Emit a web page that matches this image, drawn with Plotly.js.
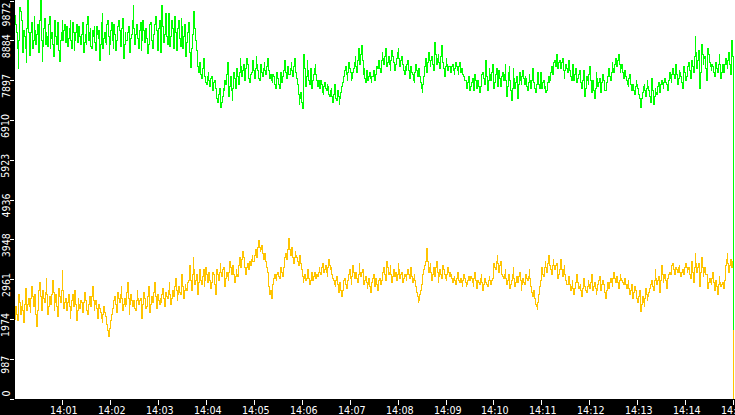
<!DOCTYPE html>
<html>
<head>
<meta charset="utf-8">
<script src="https://cdn.plot.ly/plotly-3.0.1.min.js"></script>
<style>
  html, body { margin: 0; padding: 0; background: #000; }
  #chart { width: 735px; height: 415px; }
  /* the source chart draws its traces without anti-aliasing */
  #chart .scatterlayer path { shape-rendering: crispEdges; }
</style>
</head>
<body>
<div id="chart"></div>
<script>
// Roughly one sample per second from 14:00:00 to 14:15:00.
const START = "2024-01-01 14:00:00";
const SPAN_SECONDS = 900;

const greenValues = [
  9520, 9300, 9080, 8700, 8210, 8900, 9720, 9600, 9400, 8800, 8600, 9150, 9000, 8700, 8350, 9200, 9890, 9100, 8530, 8950,
  9100, 9350, 8700, 8900, 9500, 9150, 8800, 9050, 9300, 8950, 8600, 9400, 9890, 8900, 8360, 8750, 9200, 9450, 8800, 9100,
  9000, 8750, 9300, 9500, 8700, 8950, 9100, 8800, 8500, 9250, 9400, 9000, 8800, 9350, 9200, 8650, 8360, 8900, 9100, 9400,
  8900, 9150, 9300, 8850, 9050, 9250, 8750, 8950, 9200, 9400, 8900, 8700, 9330, 9100, 8650, 8900, 9100, 9300, 8850, 9050,
  9250, 9000, 8800, 9050, 9150, 9350, 8600, 8850, 9050, 8800, 9300, 9500, 8900, 9100, 9200, 8750, 8700, 9150, 9000, 9250,
  8850, 8650, 9250, 9050, 8950, 9150, 8400, 8800, 9350, 9550, 8700, 8950, 9100, 8850, 8800, 9300, 9400, 9000, 8550, 8800,
  9150, 9350, 8900, 8700, 9300, 9050, 8650, 8900, 9050, 9250, 9400, 9150, 8750, 8950, 9200, 9450, 8450, 8800, 9100, 8900,
  8900, 9100, 9250, 8850, 8600, 8950, 9050, 9400, 9770, 9200, 8800, 9050, 9300, 9150, 8950, 8700, 9150, 9350, 8650, 8900,
  9400, 9150, 8850, 9050, 9200, 8950, 8580, 8800, 9100, 9300, 9350, 8900, 8700, 9000, 9050, 9300, 9500, 9150, 8900, 8650,
  9200, 9400, 8600, 8950, 9750, 9250, 8850, 9050, 9300, 9550, 9000, 8800, 9570, 9150, 8750, 9000, 9400, 9200, 8900, 8700,
  9500, 9100, 8650, 8900, 9200, 9400, 8950, 8750, 9450, 9250, 8700, 9000, 9300, 9050, 8500, 8850, 9100, 9350, 8800, 8600,
  8230, 8700, 9050, 9300, 9600, 9200, 8900, 8650, 8400, 8250, 8100, 8350,
  8300, 8050, 7950, 8200, 8450, 8150, 8000, 7850, 7800, 8000, 8100, 7900, 7750, 7950, 8000, 7800, 7650, 7850, 7900, 7700,
  7600, 7450, 7350, 7550, 7700, 7400, 7220, 7350, 7500, 7700, 7650, 7900,
  7800, 8050, 8350, 7900, 7500, 7750, 8000, 7650, 7400, 7700, 8100, 7950, 7700, 7950,
  8200, 8000, 7800, 8100, 8450, 8250, 8000, 8150, 8300, 8050, 7900, 8200, 8450, 8300, 8100, 7950, 7850, 8050,
  8100, 8250, 8400, 8150, 7950, 8200, 8500, 8300, 8150, 7950, 7900, 8150, 8300, 8100, 8000, 8200, 8350, 8150, 8050, 8250, 8450, 8300, 8150, 7950,
  8050, 7900, 7850, 8050, 8000, 7800, 7700, 7900, 8100, 7950, 7800, 7700, 7950, 8100, 7850, 8000,
  8150, 8300, 8400, 8100, 7950, 8150, 8250, 8050, 8050, 8200, 8350, 8150, 8000, 8250, 8450, 8200, 8100, 7950,
  7800, 7550, 7300, 7450, 7600, 7350, 7200, 7900,
  8550, 8200, 7750, 8000, 8400, 8150, 7900, 7800, 8200, 8000, 7700, 7900, 8050, 8200, 8300, 8050, 7900, 7750,
  7900, 7750, 7700, 7900, 7800, 7600, 7550, 7750, 7850, 7700, 7650, 7800, 7750, 7550, 7500, 7650,
  7700, 7500, 7350, 7550, 7800, 7600, 7450, 7400, 7650, 7500, 7300, 7450, 7600, 7750, 7850, 7950,
  8000, 8150, 8250, 8050, 7900, 8100, 8350, 8200, 8100, 7900, 7950, 8100,
  8200, 8350, 8500, 8250, 8100, 8400, 8700, 8450, 8300, 8550, 8780, 8400,
  8050, 8200, 7950, 7850, 8150, 8050, 7900, 8000, 8100, 7950, 7850, 8000, 8000, 8150, 7900, 8050, 8050, 8250,
  8200, 8350, 8400, 8200, 8100, 8400, 8600, 8450, 8300, 8500, 8700, 8400, 8250, 8350, 8500, 8300, 8150, 8400,
  8650, 8500, 8350, 8200, 8150, 8300, 8450, 8600, 8700, 8450, 8250, 8400, 8500, 8350, 8300, 8150, 8050, 8250,
  8150, 8300, 8400, 8150, 7950, 8100, 8250, 8100, 8050, 7900, 7850, 8100, 8300, 8150, 8000, 8150,
  8200, 8000, 7850, 7700, 7600, 7800, 8000, 8250, 8450, 8300, 8100, 8350, 8600, 8400, 8250, 8400, 8500, 8300, 8150,
  8500, 8850, 8550, 8300, 8450, 8550, 8350, 8200, 8500, 8780, 8550, 8350, 8200, 8000, 8250, 8450, 8300, 8150, 8250,
  8250, 8150, 8100, 8250, 8300, 8150, 8050, 8200, 8350, 8250, 8150, 8050, 8250, 8350, 8100, 8200, 8200, 8050, 8000, 7900,
  7900, 7800, 7700, 7850, 8000, 7800, 7650, 7750, 7850, 7950, 7750, 7650, 8050, 7900, 7700, 7800, 7900, 7750, 7600, 7750, 7950, 8050,
  8100, 7950, 7800, 8050, 8400, 8000, 7650, 7900, 8200, 8050, 7900, 8100, 8300, 7950,
  7700, 7850, 8050, 8200, 7850, 7750, 8150, 7950, 7750, 7900, 8000, 8100, 7900, 8050,
  8300, 7900, 7500, 7750, 8100, 8250, 7900, 7650, 7400, 7700, 8200, 7950, 7700, 7850, 8000, 7700, 7450, 7800, 8100, 7900, 7800, 8000,
  8150, 7950, 7800, 8000, 7950, 7750, 7650, 7850, 8050, 7900, 7700, 7900, 8200, 8000,
  7850, 7700, 7600, 7800, 7950, 8100, 7800, 7700, 8100, 7900, 7700, 7850, 7900, 7700,
  7750, 7600, 7650, 7850, 8000, 7850, 7900, 8100, 8250, 8050, 8150, 8350, 8400, 8250, 8550, 8400, 8200, 8350, 8400, 8250,
  8200, 8350, 8450, 8150, 7950, 8150, 8300, 8200, 8100, 8250, 8400, 8150, 8000, 7900, 8150, 8300, 7900, 8050, 8200, 8050, 7850, 7950, 8050, 8150,
  7950, 7850, 7700, 7900, 8150, 7800, 7500, 7700, 8000, 7900, 7800, 8050, 8250, 7900, 7600, 7750, 7900,
  7650, 7450, 7700, 8100, 7950, 7750, 7850, 7950, 7700, 7600, 7850, 8050, 7900, 7800, 7650, 7650, 7850,
  8000, 8150, 8200, 8000, 7900, 8100, 8350, 8200, 8100, 8300, 8450, 8300, 8250, 8400, 8550, 8300, 8100, 8200, 8300, 8100, 7950, 8050, 8150, 8000,
  7900, 7800, 7750, 7950, 8050, 7800, 7650, 7750, 7800, 7650, 7550, 7750, 7900, 7800, 7700, 7550, 7450, 7300,
  7220, 7450, 7600, 7750, 7800, 7650, 7500, 7700, 7900, 7750, 7650, 7500, 7350, 7600, 7950, 7650, 7300, 7500,
  7700, 7600, 7550, 7750, 7850, 7700, 7600, 7800, 7900, 7800, 7700, 7850, 7950, 7850, 7800, 7700, 7650, 7900,
  8100, 7950, 7850, 8050, 8200, 8050, 7950, 8100, 8300, 8050, 7800, 7950, 8150, 8100,
  8000, 7850, 7700, 7950, 8250, 8100, 7900, 8000, 8100, 8250, 8350, 8150, 7950, 8200,
  8400, 8250, 8100, 8500, 9000, 8600, 8200, 8400, 8650, 8200, 7700, 8100, 8800,
  8550, 8300, 8450, 8500, 8200, 7900, 8300, 8700, 8550, 8350, 8250, 8150, 8300,
  8250, 8100, 8000, 8200, 8350, 8200, 8100, 8300, 8550, 8300, 7950, 8100, 8300,
  8200, 8100, 8300, 8450, 8300, 8200, 8400, 8600, 8300, 8050, 8400, 8900, 8500,
  1710
];

const yellowValues = [
  1960, 2150, 2300, 2100, 1950, 2250, 2600, 2400, 2100, 2300, 2450, 2200, 1900, 2350, 2750, 2500, 2200, 2350, 2500, 2300,
  2150, 2500, 2800, 2550, 2300, 2450, 2600, 2100, 1800, 2200, 2500, 2700, 2900, 2550, 2200, 2400, 2700, 2500, 2400, 2650,
  3000, 2600, 2100, 2300, 2550, 2400, 2350, 2600, 2950, 2650, 2200, 2400, 2600, 2300, 2050, 2350, 2750, 2550, 2400, 2700,
  3180, 2700, 2250, 2400, 2500, 2250,
  2200, 2400, 2600, 2300, 2000, 2200, 2450, 2600, 2300, 2500, 2700, 2350, 1950, 2200, 2500, 2350, 2250, 2450, 2400, 2200,
  2150, 2400, 2650, 2450, 2350, 2200, 2100, 2350, 2550, 2400, 2300, 2550, 2800, 2450, 2200, 2350, 2450, 2250, 2000, 2200,
  2350, 2250, 2150, 2000, 1900, 2100, 2300, 2150, 2050, 1900,
  1850, 1700, 1540, 1650, 1750, 1950, 2100, 2250,
  2300, 2450, 2550, 2350, 2150, 2400, 2650, 2500, 2400, 2600, 2800, 2500, 2200, 2350, 2500, 2300, 2350, 2650, 2900, 2500,
  2100, 2350, 2600, 2450, 2300, 2400, 2450, 2250, 2200, 2450, 2700, 2500, 2350, 2450, 2500, 2250, 2000, 2350, 2650, 2500,
  2400, 2250, 2300, 2550, 2800, 2450, 2150, 2350, 2550, 2400, 2450, 2650, 2900, 2550, 2250, 2450, 2600, 2450, 2350, 2500,
  2400, 2600, 2750, 2500, 2300, 2450, 2650, 2550, 2500, 2700, 2900, 2600, 2350, 2500, 2700, 2600, 2550,
  2800, 3000, 2700, 2450, 2600, 2800, 2650, 2600, 2850, 3100, 2800, 2500, 2700, 2850, 2750, 2700, 2900,
  2950, 3150, 3300, 2950, 2700, 3100, 3500, 3200, 2850, 2950, 3100, 2850, 2600, 2900, 3200, 3050,
  2950, 2850, 3050, 3200, 2800, 2950, 3250, 3100, 2900, 3000, 3150, 2950, 2750, 2900, 3000, 3150,
  3100, 2850, 2600, 2900, 3200, 3100, 2950, 3150, 3350, 3150, 3050, 3200, 3250, 3000, 2800, 3000, 3150, 3050, 2950, 3150, 3400, 3250, 3100,
  3200, 3300, 3100, 2900, 3050, 3200, 3100, 3050, 3300, 3500, 3350, 3250, 3450, 3650, 3500, 3400, 3250, 3100, 3250, 3350, 3250, 3200, 3400,
  3300, 3450, 3550, 3400, 3400, 3550, 3700, 3600, 3500, 3750, 3940, 3750, 3650, 3700, 3800, 3600, 3450, 3550, 3600, 3400, 3250, 3150,
  3000, 2800, 2600, 2700, 2500, 2650, 2850, 3000,
  3100, 3000, 2950, 3100, 3150, 3050, 3000, 3150, 3250, 3150, 3050, 3250,
  3400, 3500, 3600, 3450, 3450, 3700, 3990, 3700, 3550, 3650, 3750, 3500, 3350, 3500, 3650, 3550, 3500, 3400, 3300, 3450, 3550, 3350, 3200, 3050,
  2900, 3000, 3100, 2950, 3000, 3100, 3200, 3000, 2850, 2950, 3050, 3150, 2950, 3050, 3150, 3050, 3000, 3100,
  3050, 3150, 3250, 3150, 3100, 3250, 3350, 3200, 3150, 3200, 3300, 3150, 3050, 3250, 3450, 3300, 3200, 3250, 3100, 3000,
  2950, 2850, 2800, 2950, 3050, 2850, 2650, 2750, 2900, 2700, 2550, 2700, 2850, 2950, 3000, 2850, 2750, 2850,
  2950, 3100, 3200, 3000, 2850, 3050, 3300, 3150, 3000, 3100, 3150, 3000, 2900, 3100, 3350, 3150, 3050, 3150, 3200, 3000,
  2850, 2950, 3050, 2900, 2750, 2850, 3000, 2800, 2650, 2750, 2900, 3000, 3100, 2950, 2800, 2900, 3000, 2850, 2700, 2850, 2950, 3000, 2850, 2950,
  3050, 3150, 3250, 3100, 2950, 3150, 3400, 3250, 3100, 3150, 3300, 3100, 2900, 3050,
  3200, 3100, 3050, 3150, 2950, 3100, 3350, 3200, 3000, 3100, 3150, 3000, 2900, 3000,
  3100, 3050, 2950, 3100, 3200, 3100, 3000, 3150, 3250, 3050, 2900, 3000, 3100, 2950, 2800, 2650, 2550, 2400, 2450, 2600, 2700, 2850, 2950, 3100,
  3200, 3300, 3400, 3550, 3740, 3400, 3150, 3250, 3350, 3150, 2950, 3100, 3250, 3150, 3050, 3250, 3400,
  3150, 2900, 3050, 3200, 3100, 3000, 3150, 3300, 3200, 3100, 3000, 2950, 3100, 3250, 3150, 3050, 3150,
  3100, 3000, 2900, 3000, 3050, 2950, 2850, 3000, 3150, 3050, 2950, 2900, 3000, 2900, 2800, 2950, 3100, 3000, 2900, 2800, 2850, 2950, 3050, 3000, 2950, 3050,
  3000, 2900, 2800, 3000, 3150, 2950, 2750, 2850, 2950, 2900, 2850, 3000, 3100, 2900, 2700, 2850, 3000, 2950, 2900, 2850, 2800, 2950, 3050, 2950, 2850, 2950, 3000, 3150,
  3350, 3250, 3200, 3400, 3550, 3350, 3150, 3300, 3400, 3250, 3100, 3050,
  3000, 3100, 3200, 3000, 2850, 2950, 3100, 2900, 2750, 2850, 2950, 3100, 3250, 3000, 2800, 2900, 3050,
  2950, 2900, 3050, 3150, 2950, 2700, 2850, 3000, 2900, 2850, 3000, 3100, 3000, 2950, 3050, 3200, 3000,
  2800, 2650, 2550, 2700, 2700, 2500, 2350, 2300, 2210, 2400, 2600, 2800,
  2950, 3100, 3250, 3100, 3050, 3250, 3400, 3250, 3150, 3350, 3550, 3400, 3300, 3200, 3100, 3300, 3450, 3300, 3200, 3300, 3350, 3150, 3000, 3100,
  3200, 3350, 3450, 3200, 3050, 3200, 3300, 3100, 2950, 2850,
  2850, 2950, 3050, 2850, 2700, 2800, 2950, 2750, 2600, 2750, 2900, 3000, 3100, 2900, 2750, 2800, 2850, 2700, 2550, 2750, 3000, 2900, 2800, 2700, 2650, 2800, 2950,
  2850, 2750, 2900, 3100, 2900, 2700, 2800, 2900, 2750, 2600, 2700, 2850, 2950, 3050, 2850, 2700, 2850, 2950, 2850, 2800, 2650, 2500, 2700, 2900, 2800, 2750, 2900,
  3000, 2900, 2800, 3000, 3150, 3000, 2900, 2950, 3050, 2900, 2750, 2950, 3100, 3000, 2950, 2900, 2850, 2950, 3000, 2850,
  2750, 2850, 2950, 2750, 2600, 2700, 2850, 2650, 2500, 2650, 2800, 2700, 2650, 2500, 2400, 2550,
  2700, 2450, 2180, 2350, 2550, 2400, 2300, 2500, 2750, 2600, 2450, 2550, 2650, 2750, 2850, 2900,
  2950, 2800, 2700, 2950, 3200, 3000, 2850, 2950, 3050, 2850, 2650, 2950, 3300, 3100, 2900, 3000, 3100, 2950, 2750, 2900, 3000, 3100, 3150, 3100,
  3200, 3300, 3350, 3200, 3100, 3200, 3250, 3200, 3150, 3250, 3300, 3150, 3050, 3150, 3200, 3150, 3100, 3250, 3350, 3250, 3150, 3200, 3250, 3100, 3000, 3200,
  3400, 3150, 2900, 3250, 3600, 3350, 3150, 3250, 3350, 3050, 2800, 3150, 3500, 3250, 3050, 3150, 3250, 3100,
  3100, 2950, 2750, 2900, 3000, 2900, 2850, 3000, 3150, 2900, 2700, 2850, 2950, 2800, 2600, 2850, 3050, 2900, 2800, 2850, 2900, 2800, 2750, 2950,
  3300, 3450, 3600, 3350, 3150, 3300, 3450, 3350, 3250, 3400,
  0
];

const yTickValues = [0, 987, 1974, 2961, 3948, 4936, 5923, 6910, 7897, 8884, 9872];
const xTickMinutes = ["14:01", "14:02", "14:03", "14:04", "14:05", "14:06", "14:07", "14:08",
                      "14:09", "14:10", "14:11", "14:12", "14:13", "14:14", "14:15"];

const t0 = new Date(START.replace(" ", "T") + "Z").getTime();
const fmt = ms => new Date(ms).toISOString().replace("T", " ").slice(0, 19);
const dayPrefix = START.slice(0, 11);

// spread each series evenly over the sampled window
function timesFor(values) {
  const step = SPAN_SECONDS * 1000 / (values.length - 1);
  return values.map((_, i) => fmt(t0 + i * step));
}

const traces = [
  {
    type: "scatter", mode: "lines",
    x: timesFor(yellowValues), y: yellowValues,
    line: { color: "#ffc400", width: 1, shape: "hv" },
    hoverinfo: "skip",
  },
  {
    type: "scatter", mode: "lines",
    x: timesFor(greenValues), y: greenValues,
    line: { color: "#00ff00", width: 1, shape: "hv" },
    hoverinfo: "skip",
  },
];

const yFont = { family: "'Liberation Sans Narrow', 'DejaVu Sans Condensed', 'DejaVu Sans', sans-serif", size: 10.5, color: "#ffffff" };
const xFont = { family: "'DejaVu Sans', sans-serif", size: 9.6, color: "#ffffff" };

const last = yTickValues.length - 1;
const yLabels = yTickValues.map((v, i) => ({
  xref: "paper", yref: "y",
  x: 0, y: v,
  xanchor: "center",
  yanchor: i === 0 ? "bottom" : (i === last ? "top" : "middle"),
  xshift: -9.5,
  yshift: (i === 0 || i === last) ? 0 : -6,
  text: String(v),
  textangle: -90,
  showarrow: false,
  font: yFont,
}));

const xLabels = xTickMinutes.map(m => ({
  xref: "x", yref: "paper",
  x: dayPrefix + m + ":00", y: 0,
  xanchor: "center", yanchor: "top",
  xshift: 1.5, yshift: -4,
  text: m,
  showarrow: false,
  font: xFont,
}));

const layout = {
  width: 735, height: 415,
  margin: { l: 15, r: 0, t: 0, b: 16, pad: 0 },
  paper_bgcolor: "#000000",
  plot_bgcolor: "#ffffff",
  showlegend: false,
  xaxis: {
    type: "date",
    range: [START, fmt(t0 + (SPAN_SECONDS + 2) * 1000)],
    tickvals: xTickMinutes.map(m => dayPrefix + m + ":00"),
    showticklabels: false,
    ticks: "outside", ticklen: 5, tickwidth: 1, tickcolor: "#ffffff",
    showgrid: false, zeroline: false, showline: false,
  },
  yaxis: {
    range: [0, 9872 * 399 / 398],
    tickvals: yTickValues,
    showticklabels: false,
    ticks: "outside", ticklen: 4, tickwidth: 1, tickcolor: "#ffffff",
    showgrid: false, zeroline: false, showline: false,
  },
  annotations: yLabels.concat(xLabels),
};

Plotly.newPlot("chart", traces, layout, { displayModeBar: false, staticPlot: true });
</script>
</body>
</html>
